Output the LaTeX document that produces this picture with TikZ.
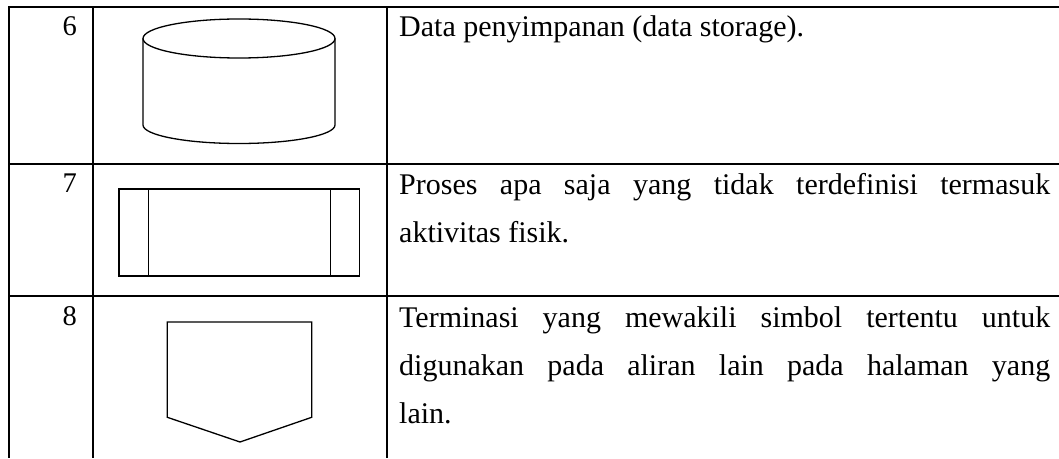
\documentclass[tikz,border=0pt]{standalone}
\usepackage{fontspec}
\setmainfont{Liberation Serif}
\begin{document}
\begin{tikzpicture}[x=1pt,y=1pt,
  rule/.style={line width=2pt,black},
  symbol/.style={line width=1.3pt,black,line join=miter},
  num/.style={anchor=base east,inner sep=0pt,font=\fontsize{28.5}{34}\selectfont},
  desc/.style={anchor=base west,inner sep=0pt,font=\fontsize{30}{36}\selectfont}]
\useasboundingbox (0,0) rectangle (1059,458);

% table rules
\draw[rule] (8,450.5) -- (1059,450.5);
\draw[rule] (8,294) -- (1059,294);
\draw[rule] (8,162) -- (1059,162);
\draw[rule] (9,451.5) -- (9,0);
\draw[rule] (92.5,451.5) -- (92.5,0);
\draw[rule] (387,451.5) -- (387,0);

% row numbers
\node[num] (n6) at (77,422) {6};
\node[num] (n7) at (77,265) {7};
\node[num] (n8) at (77,133) {8};

% 6: data storage (cylinder)
\draw[symbol] (239,419.5) ellipse [x radius=96, y radius=19.5];
\draw[symbol] (143,419.5) -- (143,333)
  arc[start angle=180, end angle=360, x radius=96, y radius=18.5]
  -- (335,419.5);

% 7: predefined process
\draw[symbol] (119,269) rectangle (359.3,182);
\draw[symbol] (148.3,269) -- (148.3,182);
\draw[symbol] (330.7,269) -- (330.7,182);

% 8: off-page connector
\draw[symbol] (167.3,136) -- (311.7,136) -- (311.7,40.7) -- (240,16)
  -- (167.3,40.7) -- cycle;

% descriptions
\node[desc] (d6) at (399,421) {Data penyimpanan (data storage).};
\node[desc] (d7a) at (399,263) {\makebox[651pt][s]{Proses apa saja yang tidak terdefinisi termasuk}};
\node[desc] (d7b) at (399,215) {aktivitas fisik.};
\node[desc] (d8a) at (399,131) {\makebox[651pt][s]{Terminasi yang mewakili simbol tertentu untuk}};
\node[desc] (d8b) at (399,83) {\makebox[651pt][s]{digunakan pada aliran lain pada halaman yang}};
\node[desc] (d8c) at (399,35) {lain.};
\end{tikzpicture}
\end{document}
